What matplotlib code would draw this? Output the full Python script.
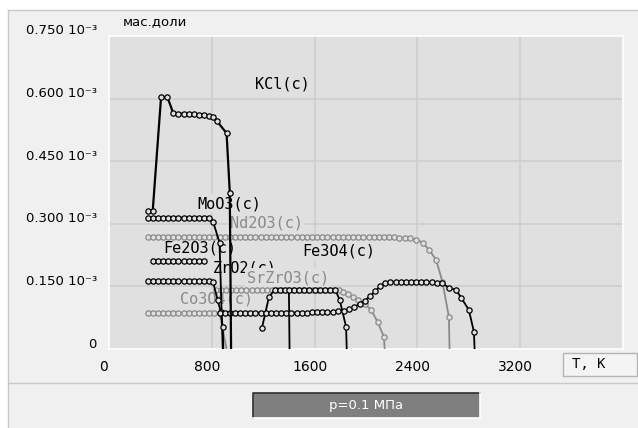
import matplotlib
matplotlib.use("Agg")
import matplotlib.pyplot as plt
import matplotlib.transforms as mtransforms
from matplotlib.patches import Rectangle
from matplotlib.lines import Line2D

# Массовые доли конденсированных фаз (в единицах 10^-3) от температуры, K
kcl_T = [300, 340, 405, 455, 500, 540, 580, 620, 660, 700, 740, 780, 810, 840, 915, 940, 950]
kcl_w = [0.33, 0.33, 0.603, 0.603, 0.565, 0.564, 0.564, 0.563, 0.562, 0.561, 0.560, 0.559,
         0.556, 0.546, 0.517, 0.375, 0.0]

moo3_T = [300, 340, 380, 420, 460, 500, 540, 580, 620, 660, 700, 740, 780, 810, 860, 885]
moo3_w = [0.315, 0.315, 0.315, 0.315, 0.315, 0.315, 0.315, 0.315, 0.315, 0.315, 0.315,
          0.315, 0.315, 0.305, 0.255, 0.0]

nd2o3_T = [300, 340, 380, 420, 460, 500, 540, 580, 620, 660, 700, 740, 780, 820, 860,
           900, 940, 980, 1020, 1060, 1100, 1140, 1180, 1220, 1260, 1300, 1340, 1380, 1420,
           1460, 1500, 1540, 1580, 1620, 1660, 1700, 1740, 1780, 1820, 1860, 1900, 1940,
           1980, 2020, 2060, 2100, 2140, 2180, 2220, 2260, 2300, 2340, 2390, 2440, 2490,
           2545, 2595, 2645, 2650]
nd2o3_w = [0.269, 0.269, 0.269, 0.269, 0.269, 0.269, 0.269, 0.269, 0.269, 0.269, 0.269,
           0.269, 0.269, 0.269, 0.269, 0.269, 0.269, 0.269, 0.269, 0.269, 0.269, 0.269,
           0.269, 0.269, 0.269, 0.269, 0.269, 0.269, 0.269, 0.269, 0.269, 0.269, 0.269,
           0.269, 0.269, 0.269, 0.269, 0.269, 0.269, 0.269, 0.269, 0.269, 0.269, 0.269,
           0.269, 0.269, 0.269, 0.268, 0.268, 0.267, 0.266, 0.265, 0.262, 0.255, 0.238,
           0.214, 0.161, 0.077, 0.0]

fe2o3_T = [340, 380, 420, 460, 500, 540, 580, 620, 660, 700, 740]
fe2o3_w = [0.211, 0.211, 0.211, 0.211, 0.211, 0.211, 0.211, 0.211, 0.211, 0.211, 0.211]

zro2_T = [300, 340, 380, 420, 460, 500, 540, 580, 620, 660, 700, 740, 780, 810, 845, 870,
          885, 890]
zro2_w = [0.163, 0.163, 0.163, 0.163, 0.163, 0.163, 0.163, 0.163, 0.163, 0.163, 0.163,
          0.163, 0.163, 0.160, 0.118, 0.089, 0.053, 0.0]

co3o4_T = [300, 340, 380, 420, 460, 500, 540, 580, 620, 660, 700, 740, 780, 820, 860, 915]
co3o4_w = [0.087, 0.087, 0.087, 0.087, 0.087, 0.087, 0.087, 0.087, 0.087, 0.087, 0.087,
           0.087, 0.087, 0.087, 0.087, 0.0]

fe3o4_T = [860, 900, 940, 980, 1020, 1060, 1100, 1140, 1180, 1220, 1260, 1300, 1340, 1380,
           1420, 1460, 1500, 1540, 1580, 1620, 1660, 1700, 1740, 1780, 1830, 1870, 1910,
           1950, 1990, 2030, 2070, 2110, 2150, 2190, 2230, 2270, 2310, 2350, 2390, 2430,
           2470, 2510, 2550, 2590, 2645, 2700, 2740, 2800, 2840, 2845]
fe3o4_w = [0.087, 0.087, 0.087, 0.087, 0.087, 0.087, 0.087, 0.087, 0.087, 0.087, 0.087,
           0.087, 0.087, 0.087, 0.087, 0.087, 0.087, 0.087, 0.088, 0.088, 0.088, 0.089,
           0.089, 0.090, 0.092, 0.096, 0.101, 0.108, 0.116, 0.126, 0.138, 0.150, 0.158,
           0.161, 0.161, 0.161, 0.161, 0.161, 0.161, 0.161, 0.161, 0.160, 0.159, 0.158,
           0.147, 0.142, 0.123, 0.094, 0.041, 0.0]

srzro3_T = [830, 870, 910, 950, 990, 1030, 1070, 1110, 1150, 1190, 1230, 1270, 1310, 1350,
            1390, 1430, 1470, 1510, 1550, 1590, 1630, 1670, 1710, 1750, 1790, 1820, 1860,
            1900, 1940, 1990, 2040, 2090, 2140, 2145]
srzro3_w = [0.142, 0.142, 0.142, 0.142, 0.142, 0.142, 0.142, 0.142, 0.142, 0.142, 0.142,
            0.142, 0.142, 0.142, 0.142, 0.142, 0.142, 0.142, 0.142, 0.142, 0.142, 0.142,
            0.142, 0.142, 0.141, 0.137, 0.132, 0.125, 0.118, 0.108, 0.094, 0.065, 0.029, 0.0]

# неподписанные фазы
ph1_T = [1190, 1245, 1290, 1330, 1370, 1400, 1405]
ph1_w = [0.05, 0.125, 0.142, 0.142, 0.142, 0.142, 0.0]
ph2_T = [1440, 1480, 1520, 1560, 1600, 1640, 1680, 1720, 1760, 1795, 1845, 1850]
ph2_w = [0.142, 0.142, 0.142, 0.142, 0.142, 0.142, 0.142, 0.142, 0.142, 0.118, 0.053, 0.0]

x_ticks = [0, 800, 1600, 2400, 3200]
y_ticks = [0.0, 0.15, 0.30, 0.45, 0.60, 0.75]
y_labels = ["0", "0.150 10⁻³", "0.300 10⁻³", "0.450 10⁻³", "0.600 10⁻³", "0.750 10⁻³"]

BG = "#f0f0f0"
PLOT_BG = "#e0e0e0"
GRAY = "#8a8a8a"

W, H = 638, 428
fig = plt.figure(figsize=(W / 100, H / 100), dpi=100, facecolor="white")

# панель
fig.patches.append(Rectangle((8 / W, 0), 1, (H - 10) / H, transform=fig.transFigure,
                             facecolor=BG, edgecolor="none", zorder=-2))
for xs, ys in [([8, 8], [0, H - 10]), ([8, W], [H - 10, H - 10]), ([8, W], [H - 383, H - 383])]:
    fig.add_artist(Line2D([x / W for x in xs], [y / H for y in ys], color="#c8c8c8", lw=1,
                          zorder=-1))

ax = fig.add_axes([109 / W, (H - 349) / H, (623 - 109) / W, (349 - 36) / H])
ax.set_facecolor(PLOT_BG)
ax.set_xlim(0, 4000)
ax.set_ylim(0, 0.75)
for s in ax.spines.values():
    s.set_color("white")
    s.set_linewidth(1.2)
ax.set_xticks([800, 1600, 2400, 3200])
ax.set_yticks([0.15, 0.30, 0.45, 0.60])
ax.grid(True, color="#cecece", lw=1.2)
ax.set_axisbelow(True)
ax.tick_params(length=0, labelleft=False, labelbottom=False)

# подписи осей
xoff = mtransforms.ScaledTranslation(-5 / 100, -18 / 100, fig.dpi_scale_trans)
for t in x_ticks:
    ax.text(t, 0, str(t), ha="center", va="center", fontsize=10, family="DejaVu Sans",
            transform=ax.transData + xoff, clip_on=False)
ytr = mtransforms.blended_transform_factory(fig.transFigure, ax.transData) + \
    mtransforms.ScaledTranslation(0, 5 / 100, fig.dpi_scale_trans)
for v, lab in zip(y_ticks, y_labels):
    fig.text(97 / W, v, lab, ha="right", va="center", fontsize=9.5, family="DejaVu Sans",
             transform=ytr)

fig.text(123 / W, (H - 22) / H, "мас.доли", fontsize=9.5, family="DejaVu Sans", va="center")


def curve(T, w, color, lw=1.3):
    marks = [i for i, val in enumerate(w) if val > 0]
    ax.plot(T, w, color=color, lw=lw, marker="o", markersize=3.8, markevery=marks,
            markerfacecolor=PLOT_BG, markeredgecolor=color, markeredgewidth=0.9, zorder=3)


curve(nd2o3_T, nd2o3_w, GRAY)
curve(co3o4_T, co3o4_w, GRAY)
curve(srzro3_T, srzro3_w, GRAY)
curve(moo3_T, moo3_w, "black")
curve(fe2o3_T, fe2o3_w, "black")
curve(zro2_T, zro2_w, "black")
curve(ph1_T, ph1_w, "black")
curve(ph2_T, ph2_w, "black")
curve(fe3o4_T, fe3o4_w, "black")
curve(kcl_T, kcl_w, "black", lw=1.6)

labels = [
    ("KCl(c)", 1136, 0.634, "black"),
    ("MoO3(c)", 685, 0.348, "black"),
    ("Nd2O3(c)", 942, 0.302, GRAY),
    ("Fe2O3(c)", 420, 0.243, "black"),
    ("Fe3O4(c)", 1502, 0.235, "black"),
    ("ZrO2(c)", 809, 0.195, "black"),
    ("SrZrO3(c)", 1074, 0.171, GRAY),
    ("Co3O4(c)", 553, 0.120, GRAY),
]
for txt, x, y, c in labels:
    ax.text(x, y, txt, color=c, fontsize=11, family="DejaVu Sans Mono", ha="left",
            va="center", zorder=2,
            bbox=dict(facecolor=PLOT_BG, edgecolor="none", pad=1.5))

# поле единиц температуры
fig.patches.append(Rectangle((563 / W, (H - 376) / H), 74 / W, 23 / H, transform=fig.transFigure,
                             facecolor="#f4f4f4", edgecolor="#b4b4b4", lw=1))
fig.text(572 / W, (H - 364) / H, "T, K", fontsize=10, family="DejaVu Sans Mono", va="center")

# плашка давления
fig.patches.append(Rectangle((253 / W, (H - 418) / H), 227 / W, 25 / H, transform=fig.transFigure,
                             facecolor="#7f7f7f", edgecolor="none"))
fig.add_artist(Line2D([253 / W, 253 / W, 480 / W], [(H - 418) / H, (H - 393) / H, (H - 393) / H],
                      color="#303030", lw=1.2))
fig.add_artist(Line2D([253 / W, 480 / W, 480 / W], [(H - 418) / H, (H - 418) / H, (H - 393) / H],
                      color="white", lw=1.2))
fig.text(366 / W, (H - 405) / H, "p=0.1 МПа", color="white", fontsize=9.5,
         family="DejaVu Sans", ha="center", va="center")

fig.savefig("out.png", dpi=100, facecolor="white")
